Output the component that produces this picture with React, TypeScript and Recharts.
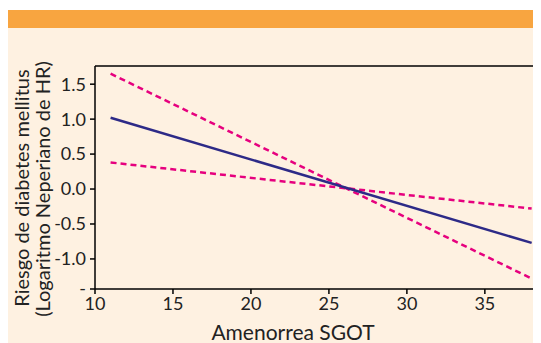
import React from 'react';
import { LineChart, Line, XAxis, YAxis, ReferenceLine } from 'recharts';

const sgot = [11, 38];
const estimate = [1.02, -0.77];
const upperCI = [1.65, -1.28];
const lowerCI = [0.38, -0.28];

const xTicks = [10, 15, 20, 25, 30, 35];
const yTicks = [-1.43, -1.0, -0.5, 0, 0.5, 1.0, 1.5];
const yTickLabels = ['-', '-1.0', '-0.5', '0.0', '0.5', '1.0', '1.5'];
const xDomain = [10, 38.6];
const yDomain = [-1.43, 1.76];

const xLabel = 'Amenorrea SGOT';
const yLabel1 = 'Riesgo de diabetes mellitus';
const yLabel2 = '(Logaritmo Neperiano de HR)';

const data = sgot.map((x, i) => ({ x, est: estimate[i], up: upperCI[i], lo: lowerCI[i] }));

const FONT = 'Lato, "Open Sans", sans-serif';
const TXT = '#222';

const YLabelContent = () => (
  <g>
    <text
      x={21}
      y={160}
      transform="rotate(-90 21 160)"
      textAnchor="middle"
      fontFamily={FONT}
      fontSize={20}
      fill={TXT}
    >
      {yLabel1}
    </text>
    <text
      x={42}
      y={161}
      transform="rotate(-90 42 161)"
      textAnchor="middle"
      fontFamily={FONT}
      fontSize={20}
      fill={TXT}
    >
      {yLabel2}
    </text>
  </g>
);

const XLabelContent = () => (
  <text x={285} y={312} textAnchor="middle" fontFamily={FONT} fontSize={21} fill={TXT}>
    {xLabel}
  </text>
);

export default function App() {
  return (
    <div style={{ width: 533, height: 335, background: '#fef1e1', position: 'relative' }}>
      <div style={{ position: 'absolute', left: 0, top: 0, width: 533, height: 1.5, background: '#ffffff' }} />
      <div style={{ position: 'absolute', left: 0, top: 1.5, width: 533, height: 18.5, background: '#f8a540' }} />
      <div style={{ position: 'absolute', left: 0, top: 20 }}>
        <LineChart width={533} height={315} data={data} margin={{ top: 38, right: 0, left: 0, bottom: 0 }}>
          <XAxis
            dataKey="x"
            type="number"
            domain={xDomain}
            ticks={xTicks}
            allowDataOverflow
            height={54}
            tickSize={5}
            tickMargin={3}
            stroke="#000"
            strokeWidth={1.5}
            tick={{ fontFamily: FONT, fontSize: 18, fill: TXT }}
            label={{ content: <XLabelContent /> }}
          />
          <YAxis
            type="number"
            domain={yDomain}
            ticks={yTicks}
            allowDataOverflow
            width={87}
            tickSize={5}
            tickMargin={4}
            stroke="#000"
            strokeWidth={1.5}
            tickFormatter={(v: number) => yTickLabels[yTicks.indexOf(v)]}
            tick={{ fontFamily: FONT, fontSize: 18, fill: TXT }}
            label={{ content: <YLabelContent /> }}
          />
          <ReferenceLine y={yDomain[1]} stroke="#000" strokeWidth={1.5} ifOverflow="visible" />
          <Line dataKey="up" type="linear" stroke="#e6007e" strokeWidth={2.5} strokeDasharray="6 4" dot={false} isAnimationActive={false} />
          <Line dataKey="lo" type="linear" stroke="#e6007e" strokeWidth={2.5} strokeDasharray="6 4" dot={false} isAnimationActive={false} />
          <Line dataKey="est" type="linear" stroke="#2d2a87" strokeWidth={2.5} dot={false} isAnimationActive={false} />
        </LineChart>
      </div>
    </div>
  );
}
